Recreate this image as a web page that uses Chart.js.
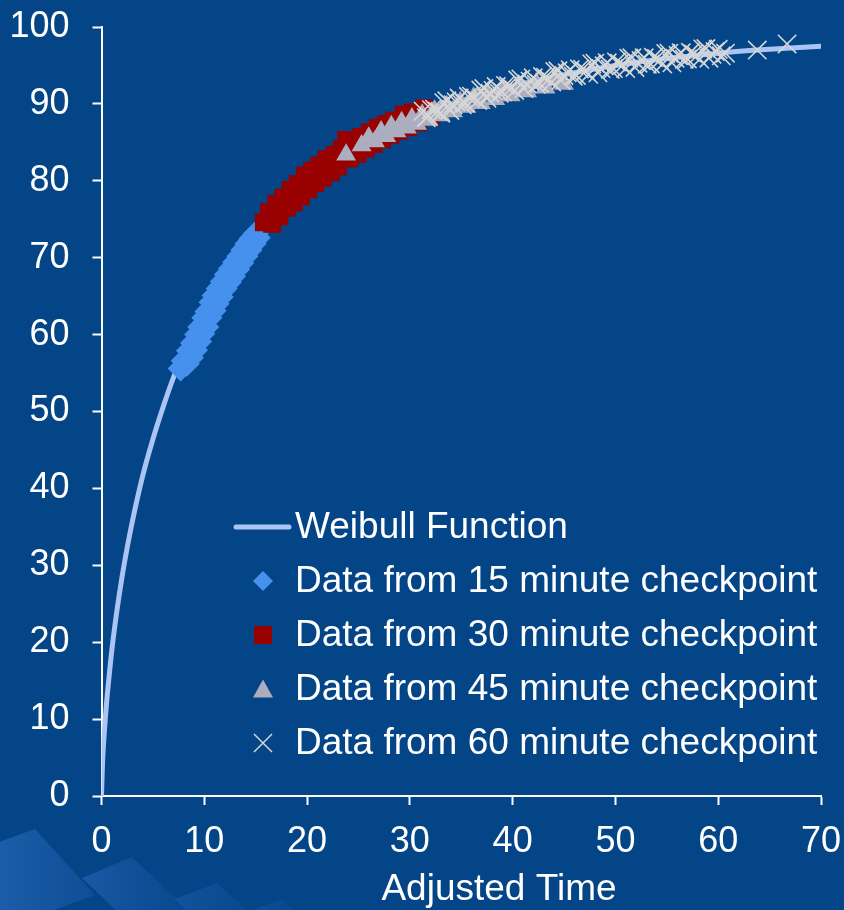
<!DOCTYPE html>
<html>
<head>
<meta charset="utf-8">
<script src="https://cdn.jsdelivr.net/npm/chart.js@4.4.1/dist/chart.umd.min.js"></script>
<style>
  html, body { margin: 0; padding: 0; background: #034587; }
  #wrap { width: 844px; height: 910px; position: relative; }
  canvas { display: block; }
</style>
</head>
<body>
<div id="wrap"><canvas id="c" width="844" height="910"></canvas></div>
<script>
// ---- Data ----
const xTitle = "Adjusted Time";
const seriesNames = [
  "Weibull Function",
  "Data from 15 minute checkpoint",
  "Data from 30 minute checkpoint",
  "Data from 45 minute checkpoint",
  "Data from 60 minute checkpoint"
];
// Weibull curve, values
const weibullT = [0, 0.1, 0.25, 0.5, 0.75, 1, 1.5, 2, 2.5, 3, 4, 5, 6, 7, 8, 9, 10, 12, 14, 16, 18, 20, 23, 26, 30, 35, 40, 45, 50, 55, 60, 65, 70];
const weibullY = [0, 4.3, 7.8, 12.2, 15.7, 18.9, 24.1, 28.5, 32.3, 35.7, 41.6, 46.4, 50.6, 54.4, 57.6, 60.6, 63.2, 67.8, 71.5, 74.8, 77.5, 79.9, 82.8, 85.3, 87.9, 90.4, 92.3, 93.8, 95.0, 95.9, 96.6, 97.1, 97.5];

// 15 minute checkpoint
const cp15T = [7.7, 8.0, 8.3, 8.5, 8.7, 8.9, 9.1, 9.3, 9.5, 9.6, 9.8, 10.0, 10.2, 10.3, 10.5, 10.7, 10.9, 11.0, 11.2, 11.4, 11.6, 11.8, 12.0, 12.2, 12.4, 12.6, 12.8, 13.0, 13.2, 13.4, 13.6, 13.8, 14.0, 14.2, 14.4, 14.6, 14.8, 15.0, 15.2];
const cp15Y = [55.6, 56.6, 56.2, 57.9, 57.0, 58.9, 58.0, 60.0, 59.1, 61.0, 60.1, 62.2, 61.0, 63.0, 62.2, 64.2, 63.1, 65.1, 64.0, 66.0, 64.9, 66.9, 66.0, 67.8, 66.8, 68.6, 67.6, 69.4, 68.5, 70.2, 69.3, 71.0, 70.2, 71.8, 71.0, 72.5, 71.8, 73.1, 72.6];

// 30 minute checkpoint
const cp30T = [15.8, 16.3, 16.6, 17.0, 17.3, 17.7, 18.0, 18.4, 18.7, 19.1, 19.4, 19.8, 20.1, 20.5, 20.8, 21.2, 21.5, 21.9, 22.3, 22.7, 23.0, 23.4, 23.8, 24.1, 24.5, 24.9, 25.3, 25.7, 26.1, 26.5, 26.9, 27.3, 27.7, 28.1, 28.5, 28.9, 29.4, 29.8, 30.3, 30.8, 31.4, 32.0];
const cp30Y = [74.6, 75.9, 74.4, 77.0, 75.4, 77.8, 76.5, 78.8, 77.2, 79.6, 78.0, 80.7, 78.9, 81.3, 79.7, 82.0, 80.4, 82.8, 81.1, 83.4, 81.9, 84.1, 85.3, 82.9, 85.1, 83.5, 85.7, 84.2, 86.3, 84.8, 86.9, 85.4, 87.4, 86.0, 87.8, 86.5, 88.6, 87.0, 88.9, 87.6, 89.4, 88.4];

// 45 minute checkpoint
const cp45T = [23.8, 25.3, 26.0, 26.6, 27.2, 27.7, 28.2, 28.7, 29.2, 29.7, 30.2, 30.7, 31.2, 31.8, 32.4, 33.0, 33.6, 34.2, 34.9, 35.5, 36.2, 36.9, 37.6, 38.3, 39.0, 39.8, 40.6, 41.4, 42.3, 43.2, 44.1, 45.0];
const cp45Y = [83.4, 84.6, 85.6, 85.1, 86.4, 85.8, 87.1, 86.4, 87.6, 86.9, 88.1, 87.4, 88.6, 87.9, 89.1, 88.5, 89.7, 89.0, 90.2, 89.6, 90.8, 90.1, 91.2, 90.6, 91.7, 91.1, 92.2, 91.6, 92.7, 92.1, 93.2, 92.6];

// 60 minute checkpoint
const cp60T = [31.3, 31.6, 31.8, 32.1, 32.4, 32.7, 33.0, 33.3, 33.6, 33.9, 34.2, 34.5, 34.8, 35.1, 35.4, 35.7, 36.0, 36.3, 36.6, 36.9, 37.2, 37.5, 37.8, 38.1, 38.4, 38.7, 39.0, 39.3, 39.6, 39.9, 40.2, 40.5, 40.8, 41.1, 41.4, 41.7, 42.0, 42.3, 42.6, 42.9, 43.2, 43.5, 43.8, 44.1, 44.4, 44.7, 45.0, 45.3, 45.6, 45.9, 46.2, 46.5, 46.8, 47.1, 47.4, 47.7, 48.0, 48.3, 48.6, 48.9, 49.2, 49.5, 49.8, 50.1, 50.4, 50.7, 51.0, 51.3, 51.6, 51.9, 52.2, 52.5, 52.8, 53.1, 53.4, 53.7, 54.0, 54.3, 54.6, 54.9, 55.2, 55.5, 55.8, 56.1, 56.4, 56.7, 57.0, 57.3, 57.6, 57.9, 58.2, 58.5, 58.8, 59.1, 59.4, 59.7, 60.0, 60.3, 60.7, 63.8, 66.7];
const cp60Y = [89.05, 88.2, 88.4, 89.25, 89.3, 89.05, 88.8, 90.15, 90.4, 89.15, 89.9, 90.25, 90.75, 89.9, 90.1, 90.95, 91.0, 90.75, 90.45, 91.8, 92.0, 90.75, 91.4, 91.75, 92.25, 91.4, 91.55, 92.4, 92.35, 92.1, 91.75, 93.1, 93.25, 92.0, 92.6, 92.95, 93.4, 92.55, 92.7, 93.55, 93.45, 93.2, 92.85, 94.2, 94.3, 93.05, 93.7, 94.05, 94.45, 93.6, 93.7, 94.55, 94.5, 94.25, 93.85, 95.2, 95.3, 94.05, 94.6, 94.95, 95.35, 94.5, 94.6, 95.45, 95.3, 95.05, 94.6, 95.95, 96.0, 94.75, 95.3, 95.65, 96.0, 95.15, 95.2, 96.05, 95.9, 95.65, 95.2, 96.55, 96.6, 95.35, 95.95, 96.3, 96.65, 95.8, 95.85, 96.7, 96.5, 96.25, 95.8, 97.15, 97.2, 95.95, 96.45, 96.8, 97.1, 96.25, 96.6, 97.0, 97.8];

const xTicks = [0, 10, 20, 30, 40, 50, 60, 70];
const yTicks = [0, 10, 20, 30, 40, 50, 60, 70, 80, 90, 100];

// ---- Styles ----
const BG = '#034587';
const FONT = '"Liberation Sans", Arial, sans-serif';
const styles = [
  { color: '#aac4f4' },
  { color: '#4690ee', style: 'rectRot', r: 13 },
  { color: '#990000', style: 'rect', r: 12.7 },
  { color: '#acaec0', style: 'triangle', r: 11.5 },
  { color: '#d6d6d6', style: 'crossRot', r: 13 }
];

function zip(a, b) { return a.map((v, i) => ({ x: v, y: b[i] })); }

const bgPlugin = {
  id: 'bg',
  beforeDraw(chart) {
    const ctx = chart.ctx;
    ctx.save();
    ctx.fillStyle = BG;
    ctx.fillRect(0, 0, chart.width, chart.height);
    const tiles = [
      { t: [35, 829], l: [-110, 40], r: [60, 66], c0: 'rgba(62,128,212,0.7)', c1: 'rgba(40,100,185,0.3)' },
      { t: [132, 857], l: [-50, 21], r: [56, 53], c0: 'rgba(45,105,190,0.55)', c1: 'rgba(30,85,165,0.25)' },
      { t: [217, 883], l: [-42, 16], r: [52, 47], c0: 'rgba(40,98,180,0.45)', c1: 'rgba(25,80,155,0.2)' },
      { t: [282, 899], l: [-32, 12], r: [46, 41], c0: 'rgba(35,90,170,0.4)', c1: 'rgba(25,78,150,0.18)' }
    ];
    tiles.forEach(tl => {
      const [tx, ty] = tl.t;
      const L = [tx + tl.l[0], ty + tl.l[1]];
      const R = [tx + tl.r[0], ty + tl.r[1]];
      const B = [tx + tl.l[0] + tl.r[0], ty + tl.l[1] + tl.r[1]];
      const g = ctx.createLinearGradient(L[0], ty, R[0], ty);
      g.addColorStop(0, tl.c0);
      g.addColorStop(1, tl.c1);
      ctx.fillStyle = g;
      ctx.beginPath();
      ctx.moveTo(tx, ty);
      ctx.lineTo(R[0], R[1]);
      ctx.lineTo(B[0], B[1]);
      ctx.lineTo(L[0], L[1]);
      ctx.closePath();
      ctx.fill();
    });
    ctx.restore();
  }
};

function drawMarker(ctx, style, x, y) {
  ctx.save();
  ctx.fillStyle = style.color;
  ctx.strokeStyle = style.color;
  if (style.style === 'rectRot') {
    const r = 10;
    ctx.beginPath();
    ctx.moveTo(x, y - r); ctx.lineTo(x + r, y); ctx.lineTo(x, y + r); ctx.lineTo(x - r, y);
    ctx.closePath(); ctx.fill();
  } else if (style.style === 'rect') {
    const s = 9;
    ctx.fillRect(x - s, y - s, 2 * s, 2 * s);
  } else if (style.style === 'triangle') {
    const w = 10, h = 17;
    ctx.beginPath();
    ctx.moveTo(x, y - h / 2 - 1); ctx.lineTo(x + w, y + h / 2); ctx.lineTo(x - w, y + h / 2);
    ctx.closePath(); ctx.fill();
  } else if (style.style === 'crossRot') {
    const s = 9;
    ctx.lineWidth = 1.5;
    ctx.beginPath();
    ctx.moveTo(x - s, y - s); ctx.lineTo(x + s, y + s);
    ctx.moveTo(x + s, y - s); ctx.lineTo(x - s, y + s);
    ctx.stroke();
  }
  ctx.restore();
}

const legendPlugin = {
  id: 'customLegend',
  afterDraw(chart) {
    const ctx = chart.ctx;
    ctx.save();
    ctx.font = '37px ' + FONT;
    ctx.fillStyle = '#ffffff';
    ctx.textBaseline = 'middle';
    ctx.textAlign = 'left';
    const rowY0 = 527, rowH = 54, textX = 295, markX = 263;
    seriesNames.forEach((name, i) => {
      const y = rowY0 + i * rowH;
      if (i === 0) {
        ctx.save();
        ctx.strokeStyle = styles[0].color;
        ctx.lineWidth = 5;
        ctx.lineCap = 'round';
        ctx.beginPath();
        ctx.moveTo(236, y); ctx.lineTo(289, y);
        ctx.stroke();
        ctx.restore();
      } else {
        drawMarker(ctx, styles[i], markX, y);
      }
      ctx.fillStyle = '#ffffff';
      ctx.fillText(name, textX, y + 1);
    });
    // axis title
    ctx.textAlign = 'center';
    ctx.fillText(xTitle, 499, 890);
    ctx.restore();
  }
};

function noPad(s) { s.paddingTop = 0; s.paddingBottom = 0; s.paddingLeft = 0; s.paddingRight = 0; }

const datasets = [
  {
    label: seriesNames[0],
    data: zip(weibullT, weibullY),
    showLine: true,
    borderColor: styles[0].color,
    borderWidth: 5,
    borderCapStyle: 'round',
    pointRadius: 0,
    cubicInterpolationMode: 'monotone',
    order: 5
  },
  {
    label: seriesNames[1],
    data: zip(cp15T, cp15Y),
    pointStyle: 'rectRot',
    pointRadius: styles[1].r,
    backgroundColor: styles[1].color,
    borderColor: styles[1].color,
    borderWidth: 0,
    order: 4
  },
  {
    label: seriesNames[2],
    data: zip(cp30T, cp30Y),
    pointStyle: 'rect',
    pointRadius: styles[2].r,
    backgroundColor: styles[2].color,
    borderColor: styles[2].color,
    borderWidth: 0,
    order: 3
  },
  {
    label: seriesNames[3],
    data: zip(cp45T, cp45Y),
    pointStyle: 'triangle',
    pointRadius: styles[3].r,
    backgroundColor: styles[3].color,
    borderColor: styles[3].color,
    borderWidth: 0,
    order: 2
  },
  {
    label: seriesNames[4],
    data: zip(cp60T, cp60Y),
    pointStyle: 'crossRot',
    pointRadius: styles[4].r,
    backgroundColor: styles[4].color,
    borderColor: styles[4].color,
    borderWidth: 1.6,
    order: 1
  }
];

new Chart(document.getElementById('c'), {
  type: 'scatter',
  data: { datasets },
  plugins: [bgPlugin, legendPlugin],
  options: {
    responsive: false,
    animation: false,
    events: [],
    layout: { padding: { top: 27, right: 23, left: 0, bottom: 0 } },
    plugins: { legend: { display: false }, tooltip: { enabled: false } },
    scales: {
      x: {
        type: 'linear',
        min: 0, max: 70,
        afterFit: s => { s.height = 114; noPad(s); },
        afterBuildTicks: s => { s.ticks = xTicks.map(v => ({ value: v })); },
        ticks: { color: '#ffffff', font: { size: 36, family: FONT }, padding: 15, maxRotation: 0 },
        grid: { display: true, drawOnChartArea: false, drawTicks: true, tickLength: 9, tickWidth: 2, color: '#ffffff' },
        border: { display: true, color: '#ffffff', width: 2 },
        title: { display: false, text: xTitle }
      },
      y: {
        type: 'linear',
        min: 0, max: 100,
        afterFit: s => { s.width = 101.5; noPad(s); },
        afterBuildTicks: s => { s.ticks = yTicks.map(v => ({ value: v })); },
        ticks: { color: '#ffffff', font: { size: 36, family: FONT }, padding: 23 },
        grid: { display: true, drawOnChartArea: false, drawTicks: true, tickLength: 9, tickWidth: 2, color: '#ffffff' },
        border: { display: true, color: '#ffffff', width: 2 }
      }
    }
  }
});
</script>
</body>
</html>
